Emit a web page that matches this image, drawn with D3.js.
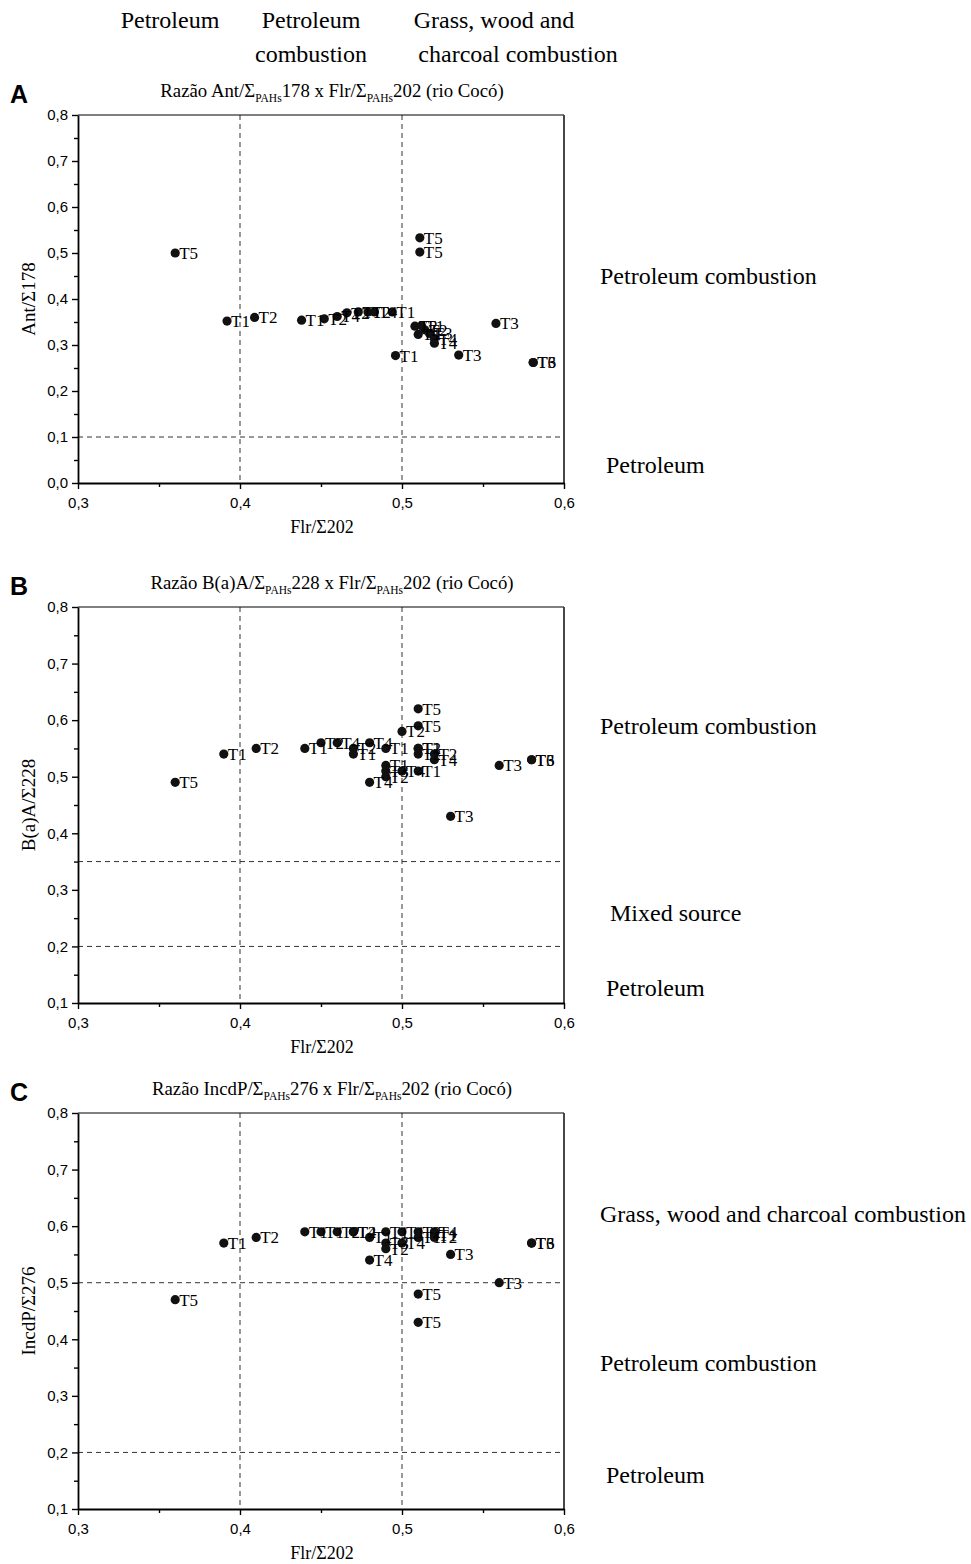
<!DOCTYPE html>
<html>
<head>
<meta charset="utf-8">
<script src="https://cdn.jsdelivr.net/npm/d3@7"></script>
<style>
body{margin:0;background:#fff;}
</style>
</head>
<body>
<div class="canva"></div>
<script>
// Panel A : Ant/Σ178 vs Flr/Σ202
const antX = [0.36,0.392,0.409,0.438,0.452,0.460,0.466,0.473,0.479,0.483,0.494,0.511,0.511,0.508,0.512,0.510,0.514,0.517,0.520,0.520,0.496,0.535,0.558,0.581,0.581];
const antY = [0.50,0.352,0.36,0.354,0.357,0.362,0.37,0.372,0.372,0.372,0.372,0.533,0.502,0.341,0.342,0.323,0.333,0.325,0.314,0.304,0.277,0.278,0.347,0.262,0.262];
const antLab = ["T5","T1","T2","T1","T2","T4","T2","T1","T2","T4","T1","T5","T5","T2","T1","T1","T2","T3","T4","T4","T1","T3","T3","T3","T6"];

// Panel B : B(a)A/Σ228 vs Flr/Σ202
const baaX = [0.51,0.51,0.50,0.39,0.41,0.44,0.45,0.46,0.47,0.47,0.48,0.49,0.49,0.49,0.49,0.50,0.51,0.48,0.51,0.51,0.51,0.52,0.52,0.56,0.58,0.58,0.53,0.36];
const baaY = [0.62,0.59,0.58,0.54,0.55,0.55,0.56,0.56,0.55,0.54,0.56,0.55,0.52,0.51,0.50,0.51,0.51,0.49,0.55,0.55,0.54,0.54,0.53,0.52,0.53,0.53,0.43,0.49];
const baaLab = ["T5","T5","T2","T1","T2","T1","T2","T4","T2","T1","T4","T1","T1","T3","T2","T4","T1","T4","T1","T2","T2","T2","T4","T3","T3","T6","T3","T5"];

// Panel C : IncdP/Σ276 vs Flr/Σ202
const incX = [0.39,0.41,0.44,0.45,0.46,0.47,0.47,0.48,0.48,0.49,0.49,0.49,0.50,0.50,0.51,0.51,0.52,0.52,0.52,0.53,0.56,0.58,0.58,0.51,0.51,0.36];
const incY = [0.57,0.58,0.59,0.59,0.59,0.59,0.59,0.58,0.54,0.59,0.57,0.56,0.59,0.57,0.59,0.58,0.59,0.585,0.58,0.55,0.50,0.57,0.57,0.48,0.43,0.47];
const incLab = ["T1","T2","T1","T1","T2","T4","T2","T1","T4","T1","T3","T2","T1","T4","T2","T1","T4","T1","T2","T3","T3","T3","T6","T5","T5","T5"];

const xTicks = [0.3,0.4,0.5,0.6];
const xMinor = [0.35,0.45,0.55];
const yTicksA = [0,0.1,0.2,0.3,0.4,0.5,0.6,0.7,0.8];
const yTicksBC = [0.1,0.2,0.3,0.4,0.5,0.6,0.7,0.8];
const vLines = [0.4,0.5];
const hLinesA = [0.1];
const hLinesB = [0.35,0.2];
const hLinesC = [0.5,0.2];

const headerTop = ["Petroleum","Petroleum","Grass, wood and"];
const headerBottom = ["","combustion","charcoal combustion"];

const zonesA = ["Petroleum combustion","Petroleum"];
const zonesAVal = [0.45,0.04];
const zonesB = ["Petroleum combustion","Mixed source","Petroleum"];
const zonesBVal = [0.59,0.26,0.127];
const zonesC = ["Grass, wood and charcoal combustion","Petroleum combustion","Petroleum"];
const zonesCVal = [0.623,0.358,0.16];

const comma = d => d3.format(".1f")(d).replace(".", ",");
const serif = "'Liberation Serif','Times New Roman',serif";
const sans = "'Liberation Sans',Arial,sans-serif";

const svg = d3.select(".canva").append("svg")
  .attr("width", 971)
  .attr("height", 1564)
  .style("font-family", serif);

// header over the figure
const hx = [170, 311, 494];
svg.selectAll("text.htop").data(headerTop).enter().append("text")
  .attr("class","htop")
  .attr("x", (d,i) => hx[i]).attr("y", 28)
  .attr("text-anchor","middle")
  .attr("font-family", serif)
  .attr("font-size", 24)
  .text(d => d);
const hx2 = [170, 311, 518];
svg.selectAll("text.hbot").data(headerBottom).enter().append("text")
  .attr("class","hbot")
  .attr("x", (d,i) => hx2[i]).attr("y", 62)
  .attr("text-anchor","middle")
  .attr("font-family", serif)
  .attr("font-size", 24)
  .text(d => d);

const panels = [
  {letter:"A", xs:antX, ys:antY, labs:antLab, yDom:[0,0.8], top:115, bottom:483, yTicks:yTicksA,
   hLines:hLinesA, num:"Ant/", n1:"178", yTitle:"Ant/Σ178", zones:zonesA, zoneVal:zonesAVal},
  {letter:"B", xs:baaX, ys:baaY, labs:baaLab, yDom:[0.1,0.8], top:607, bottom:1003, yTicks:yTicksBC,
   hLines:hLinesB, num:"B(a)A/", n1:"228", yTitle:"B(a)A/Σ228", zones:zonesB, zoneVal:zonesBVal},
  {letter:"C", xs:incX, ys:incY, labs:incLab, yDom:[0.1,0.8], top:1113, bottom:1509, yTicks:yTicksBC,
   hLines:hLinesC, num:"IncdP/", n1:"276", yTitle:"IncdP/Σ276", zones:zonesC, zoneVal:zonesCVal}
];

panels.forEach(p => {
  const x = d3.scaleLinear().domain([0.3,0.6]).range([78,564]);
  const y = d3.scaleLinear().domain(p.yDom).range([p.bottom,p.top]);
  const g = svg.append("g");

  // panel letter
  g.append("text")
    .attr("x", 10).attr("y", p.top - 12)
    .attr("font-family", sans)
    .attr("font-weight","bold")
    .attr("font-size", 25)
    .text(p.letter);

  // title with subscripts
  const t = g.append("text")
    .attr("x", 332).attr("y", p.top - 18)
    .attr("text-anchor","middle")
    .attr("font-family", serif)
    .attr("font-size", 18.8);
  t.append("tspan").text("Razão " + p.num + "Σ");
  t.append("tspan").attr("font-size", 11.5).attr("dy", 5).text("PAHs");
  t.append("tspan").attr("dy", -5).text(p.n1 + " x Flr/Σ");
  t.append("tspan").attr("font-size", 11.5).attr("dy", 5).text("PAHs");
  t.append("tspan").attr("dy", -5).text("202 (rio Cocó)");

  // dashed reference lines
  g.selectAll("line.v").data(vLines).enter().append("line")
    .attr("x1", d => x(d)).attr("x2", d => x(d))
    .attr("y1", p.top).attr("y2", p.bottom)
    .attr("stroke","#333").attr("stroke-dasharray","5,4");
  g.selectAll("line.h").data(p.hLines).enter().append("line")
    .attr("x1", 78).attr("x2", 564)
    .attr("y1", d => y(d)).attr("y2", d => y(d))
    .attr("stroke","#333").attr("stroke-dasharray","5,4");

  // frame
  g.append("line").attr("x1",78).attr("x2",564).attr("y1",p.top).attr("y2",p.top)
    .attr("stroke","#000").attr("stroke-width",1.2);
  g.append("line").attr("x1",564).attr("x2",564).attr("y1",p.top).attr("y2",p.bottom)
    .attr("stroke","#333").attr("stroke-width",1.8);

  // axes
  const xa = g.append("g").attr("transform", `translate(0,${p.bottom})`)
    .call(d3.axisBottom(x).tickValues(xTicks).tickSize(6).tickPadding(8).tickSizeOuter(0).tickFormat(comma));
  g.append("g").attr("transform", `translate(0,${p.bottom})`)
    .call(d3.axisBottom(x).tickValues(xMinor).tickSize(4).tickSizeOuter(0).tickFormat(""))
    .select(".domain").remove();
  const yMinor = p.yTicks.slice(1).map(d => d - 0.05);
  const ya = g.append("g").attr("transform", "translate(78,0)")
    .call(d3.axisLeft(y).tickValues(p.yTicks).tickSize(6).tickPadding(4).tickSizeOuter(0).tickFormat(comma));
  g.append("g").attr("transform", "translate(78,0)")
    .call(d3.axisLeft(y).tickValues(yMinor).tickSize(4).tickSizeOuter(0).tickFormat(""))
    .select(".domain").remove();
  [xa, ya].forEach(a => {
    a.select(".domain").attr("stroke-width", 1.8);
    a.selectAll("text").attr("font-family", sans).attr("font-size", 15).attr("fill","#000");
  });
  g.selectAll(".tick line").attr("stroke-width", 1.4);

  // axis titles
  g.append("text")
    .attr("x", 322).attr("y", p.bottom + 50)
    .attr("text-anchor","middle")
    .attr("font-family", serif).attr("font-size", 18)
    .text("Flr/Σ202");
  g.append("text")
    .attr("transform", `translate(35,${(p.top + p.bottom) / 2}) rotate(-90)`)
    .attr("text-anchor","middle")
    .attr("font-family", serif).attr("font-size", 19)
    .text(p.yTitle);

  // points and labels
  const pts = d3.range(p.xs.length);
  g.selectAll("circle").data(pts).enter().append("circle")
    .attr("cx", i => x(p.xs[i])).attr("cy", i => y(p.ys[i]))
    .attr("r", 4.6).attr("fill","#111");
  g.selectAll("text.lab").data(pts).enter().append("text")
    .attr("class","lab")
    .attr("x", i => x(p.xs[i]) + 4).attr("y", i => y(p.ys[i]))
    .attr("dy","0.35em")
    .attr("font-family", serif).attr("font-size", 17)
    .text(i => p.labs[i]);

  // source zones on the right
  g.selectAll("text.zone").data(p.zones).enter().append("text")
    .attr("class","zone")
    .attr("x", (d,i) => (d === "Petroleum" ? 606 : (d === "Mixed source" ? 610 : 600)))
    .attr("y", (d,i) => y(p.zoneVal[i]))
    .attr("dy","0.35em")
    .attr("font-family", serif).attr("font-size", 24)
    .text(d => d);
});
</script>
</body>
</html>
